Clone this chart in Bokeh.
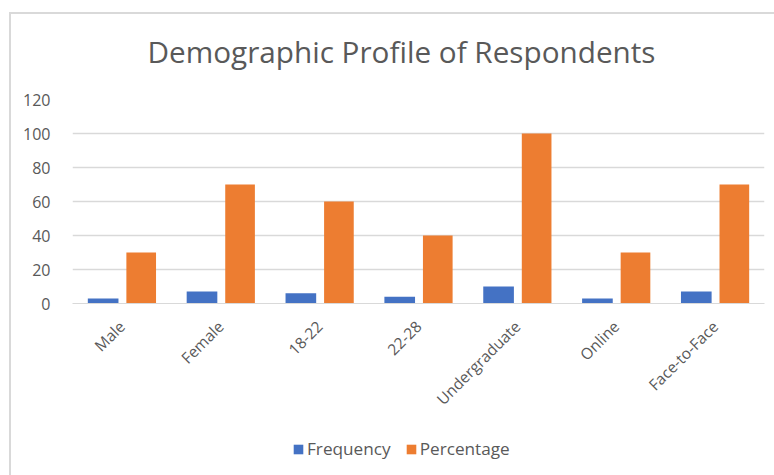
from math import pi
from bokeh.plotting import figure
from bokeh.layouts import column
from bokeh.models import (ColumnDataSource, FactorRange, Range1d, Legend, LegendItem,
                          FixedTicker)
from bokeh.transform import dodge
from bokeh.embed import file_html
from bokeh.resources import INLINE

categories = ["Male", "Female", "18-22", "22-28", "Undergraduate", "Online", "Face-to-Face"]
frequency = [3, 7, 6, 4, 10, 3, 7]
percentage = [30, 70, 60, 40, 100, 30, 70]
y_ticks = [0, 20, 40, 60, 80, 100, 120]
title_text = "Demographic Profile of Respondents"
series_names = ["Frequency", "Percentage"]
series_colors = ["#4472C4", "#ED7D31"]

FONT = "Open Sans"
TXT = "#595959"
BORDER = "#d9d9d9"

src = ColumnDataSource(dict(cat=categories, freq=frequency, pct=percentage))

p = figure(width=774, height=430, output_backend="svg", toolbar_location=None,
           x_range=FactorRange(factors=categories), y_range=Range1d(0, 120),
           min_border_left=72, min_border_right=10, min_border_top=99, min_border_bottom=127,
           title=title_text)
p.background_fill_color = None
p.border_fill_color = None
p.outline_line_color = None

p.title.align = "left"
p.title.offset = 75
p.title.standoff = 56
p.title.text_font = FONT
p.title.text_font_size = "29.7px"
p.title.text_font_style = "normal"
p.title.text_color = TXT

p.vbar(x=dodge("cat", -0.19, range=p.x_range), top="freq", width=0.31,
       source=src, fill_color=series_colors[0], line_color=None)
p.vbar(x=dodge("cat", 0.195, range=p.x_range), top="pct", width=0.30,
       source=src, fill_color=series_colors[1], line_color=None)

# axes
p.yaxis.ticker = FixedTicker(ticks=y_ticks)
p.yaxis.axis_line_color = None
p.yaxis.major_tick_line_color = None
p.yaxis.minor_tick_line_color = None
p.yaxis.major_label_standoff = 16
p.yaxis.major_label_text_font = FONT
p.yaxis.major_label_text_font_size = "16px"
p.yaxis.major_label_text_color = TXT

p.xaxis.axis_line_color = BORDER
p.xaxis.major_tick_line_color = None
p.xaxis.minor_tick_line_color = None
p.xaxis.major_label_orientation = pi / 4
p.xaxis.major_label_standoff = 14
p.xaxis.major_label_text_font = FONT
p.xaxis.major_label_text_font_size = "15.5px"
p.xaxis.major_label_text_color = TXT

p.xgrid.grid_line_color = None
p.ygrid.grid_line_color = BORDER
p.ygrid.grid_line_width = 1.5
p.ygrid.ticker = FixedTicker(ticks=y_ticks)

# legend strip underneath (its renderers are hidden; only their legend swatches show)
lg = figure(width=774, height=45, output_backend="svg", toolbar_location=None,
            x_range=p.x_range, y_range=Range1d(-2, -1),
            x_axis_location=None, y_axis_location=None,
            min_border_left=72, min_border_right=10, min_border_top=0, min_border_bottom=0)
lg.grid.visible = False
lg.outline_line_color = None
lg.background_fill_color = None
lg.border_fill_color = None
d1 = lg.vbar(x="cat", top="freq", width=0.3, source=src,
             fill_color=series_colors[0], line_color=None, visible=False)
d2 = lg.vbar(x="cat", top="pct", width=0.3, source=src,
             fill_color=series_colors[1], line_color=None, visible=False)

legend = Legend(items=[LegendItem(label=series_names[0], renderers=[d1], index=0),
                       LegendItem(label=series_names[1], renderers=[d2], index=0)],
                orientation="horizontal", location=(220, 15),
                glyph_width=12, glyph_height=12, label_standoff=3, spacing=14,
                label_height=20, padding=0, margin=0,
                border_line_color=None, background_fill_color=None,
                inactive_fill_alpha=0,
                label_text_font=FONT, label_text_font_size="17.2px", label_text_color=TXT)
lg.add_layout(legend, "center")

layout = column(p, lg, spacing=0)
layout.styles = {
    "background": (f"linear-gradient({BORDER},{BORDER}) 9px 12px / 2px 100% no-repeat, "
                   f"linear-gradient({BORDER},{BORDER}) 9px 12px / 100% 2px no-repeat, white"),
}
open("out.html", "w").write(file_html(layout, INLINE))
